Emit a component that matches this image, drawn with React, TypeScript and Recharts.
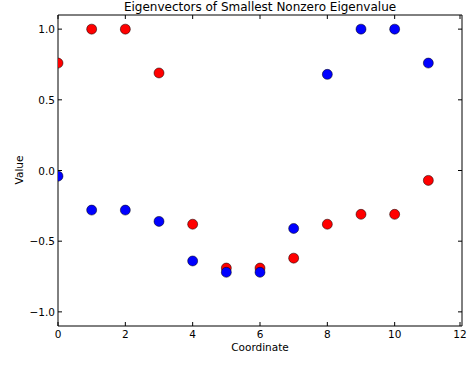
import { ScatterChart, Scatter, XAxis, YAxis } from "recharts";

const coords = [0, 1, 2, 3, 4, 5, 6, 7, 8, 9, 10, 11];
const redValues = [0.76, 1.0, 1.0, 0.69, -0.38, -0.69, -0.69, -0.62, -0.38, -0.31, -0.31, -0.07];
const blueValues = [-0.04, -0.28, -0.28, -0.36, -0.64, -0.72, -0.72, -0.41, 0.68, 1.0, 1.0, 0.76];
const xTicks = [0, 2, 4, 6, 8, 10, 12];
const yTicks = [-1.0, -0.5, 0.0, 0.5, 1.0];

const redData = coords.map((c, i) => ({ x: c, y: redValues[i] }));
const blueData = coords.map((c, i) => ({ x: c, y: blueValues[i] }));

const font = "'DejaVu Sans', sans-serif";

const fmtY = (v: number) => (v < 0 ? "\u2212" + Math.abs(v).toFixed(1) : v.toFixed(1));

const BottomTick = ({ x, y, payload }: any) => (
  <g>
    <line x1={x} y1={y} x2={x} y2={y - 4} stroke="#000" />
    <text x={x} y={y + 12} textAnchor="middle" fontSize={10.5} fontFamily={font} fill="#000">
      {payload.value}
    </text>
  </g>
);

const TopTick = ({ x, y }: any) => <line x1={x} y1={y} x2={x} y2={y + 4} stroke="#000" />;

const LeftTick = ({ x, y, payload }: any) => (
  <g>
    <line x1={x} y1={y} x2={x + 4} y2={y} stroke="#000" />
    <text x={x - 3} y={y + 4} textAnchor="end" fontSize={10.5} fontFamily={font} fill="#000">
      {fmtY(payload.value)}
    </text>
  </g>
);

const RightTick = ({ x, y }: any) => <line x1={x} y1={y} x2={x - 4} y2={y} stroke="#000" />;

const dot = (color: string) => (props: any) =>
  <circle cx={props.cx} cy={props.cy} r={5} fill={color} stroke="#000" strokeWidth={0.5} />;

export default function App() {
  return (
    <div style={{ position: "relative", width: 468, height: 384, background: "#fff", fontFamily: font }}>
      <style>{"body{margin:0}"}</style>
      <ScatterChart width={468} height={384} margin={{ top: 14, right: 5, bottom: 0, left: 0 }}>
        <XAxis
          xAxisId="b"
          type="number"
          dataKey="x"
          domain={[0, 12]}
          ticks={xTicks}
          allowDataOverflow
          height={58}
          tickSize={0}
          tickMargin={0}
          tick={<BottomTick />}
          axisLine={{ stroke: "#000" }}
          tickLine={false}
        />
        <XAxis
          xAxisId="t"
          orientation="top"
          type="number"
          dataKey="x"
          domain={[0, 12]}
          ticks={xTicks}
          allowDataOverflow
          height={1}
          tickSize={0}
          tickMargin={0}
          tick={<TopTick />}
          axisLine={{ stroke: "#000" }}
          tickLine={false}
        />
        <YAxis
          yAxisId="l"
          type="number"
          dataKey="y"
          domain={[-1.1, 1.1]}
          ticks={yTicks}
          allowDataOverflow
          width={58}
          tickSize={0}
          tickMargin={0}
          tick={<LeftTick />}
          axisLine={{ stroke: "#000" }}
          tickLine={false}
        />
        <YAxis
          yAxisId="r"
          orientation="right"
          type="number"
          dataKey="y"
          domain={[-1.1, 1.1]}
          ticks={yTicks}
          allowDataOverflow
          width={1}
          tickSize={0}
          tickMargin={0}
          tick={<RightTick />}
          axisLine={{ stroke: "#000" }}
          tickLine={false}
        />
        <Scatter xAxisId="b" yAxisId="l" data={redData} shape={dot("#ff0000")} isAnimationActive={false} />
        <Scatter xAxisId="b" yAxisId="l" data={blueData} shape={dot("#0000ff")} isAnimationActive={false} />
        <Scatter xAxisId="t" yAxisId="r" data={[]} isAnimationActive={false} />
      </ScatterChart>
      <div
        style={{
          position: "absolute",
          left: 58,
          width: 404,
          top: 0,
          textAlign: "center",
          fontSize: 12,
          lineHeight: "14px",
          color: "#000",
        }}
      >
        Eigenvectors of Smallest Nonzero Eigenvalue
      </div>
      <div
        style={{
          position: "absolute",
          left: 58,
          width: 404,
          top: 341,
          textAlign: "center",
          fontSize: 10.5,
          lineHeight: "12px",
          color: "#000",
        }}
      >
        Coordinate
      </div>
      <div
        style={{
          position: "absolute",
          left: 19,
          top: 170,
          transform: "translate(-50%, -50%) rotate(-90deg)",
          fontSize: 10.5,
          lineHeight: "12px",
          color: "#000",
          whiteSpace: "nowrap",
        }}
      >
        Value
      </div>
    </div>
  );
}
